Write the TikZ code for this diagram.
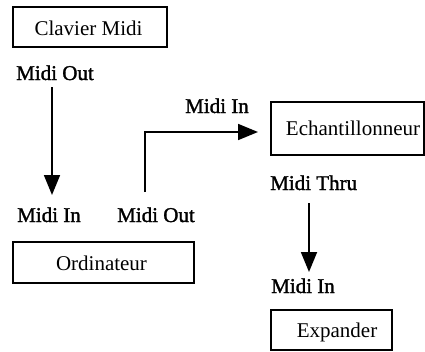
\documentclass[tikz,border=0pt]{standalone}
\usepackage{fontspec}
\setmainfont{Liberation Serif}
\newfontfamily\portfont{Liberation Serif}[FakeBold=1.5]
\usetikzlibrary{arrows.meta}
\tikzset{
  devbox/.style={draw, line width=1.8pt, inner sep=0pt},
  devtext/.style={font=\fontsize{21}{25}\selectfont, anchor=base, inner sep=0pt},
  port/.style={font=\portfont\fontsize{21}{25}\selectfont, anchor=base west, inner sep=0pt},
  link/.style={line width=1.8pt, -{Triangle[length=20pt,width=16pt]}},
}
\begin{document}
\begin{tikzpicture}[x=1pt,y=-1pt]
  \useasboundingbox (0,0) rectangle (425,351);

  % devices
  \node[devbox, minimum width=154pt, minimum height=40pt] (clavier) at (90,27) {};
  \node[devtext] (clavier-t) at (88.5,35) {Clavier Midi};

  \node[devbox, minimum width=181pt, minimum height=41pt] (ordi) at (103.5,262.5) {};
  \node[devtext] (ordi-t) at (101.5,270) {Ordinateur};

  \node[devbox, minimum width=153pt, minimum height=53pt] (echant) at (347.5,128.5) {};
  \node[devtext] (echant-t) at (353,135) {Echantillonneur};

  \node[devbox, minimum width=121pt, minimum height=40pt] (expander) at (331.5,330) {};
  \node[devtext] (expander-t) at (337,337) {Expander};

  % MIDI ports
  \node[port] (clavier-out) at (16,80) {Midi Out};
  \node[port] (ordi-in) at (17,222) {Midi In};
  \node[port] (ordi-out) at (117,222) {Midi Out};
  \node[port] (echant-in) at (185,113) {Midi In};
  \node[port] (echant-thru) at (270,190) {Midi Thru};
  \node[port] (expander-in) at (271,293) {Midi In};

  % cable ends
  \coordinate (c1a) at (52,87);
  \coordinate (c1b) at (52,195);
  \coordinate (c2a) at (145,192);
  \coordinate (c2b) at (258,132);
  \coordinate (c3a) at (309,203);
  \coordinate (c3b) at (309,272);

  % cables
  \draw[link] (c1a) -- (c1b);
  \draw[link] (c2a) |- (c2b);
  \draw[link] (c3a) -- (c3b);
\end{tikzpicture}
\end{document}
